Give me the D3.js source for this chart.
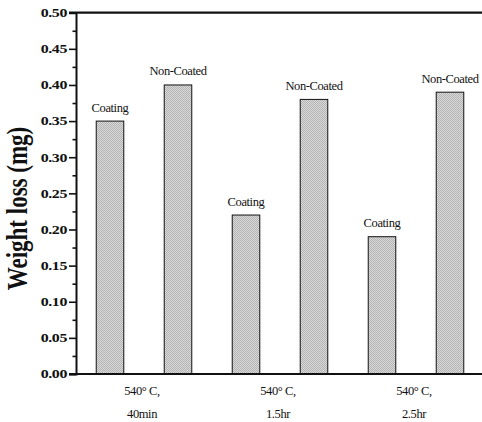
<!DOCTYPE html>
<html><head><meta charset="utf-8">
<script src="https://cdn.jsdelivr.net/npm/d3@7"></script>
<style>body{margin:0;background:#fff}svg{display:block}</style>
</head><body>
<svg id="c" width="482" height="422"></svg>
<script>
const groupLine1 = ["540\u00b0 C,", "540\u00b0 C,", "540\u00b0 C,"];
const groupLine2 = ["40min", "1.5hr", "2.5hr"];
const seriesNames = ["Coating", "Non-Coated"];
const coating = [0.35, 0.22, 0.19];
const nonCoated = [0.40, 0.38, 0.39];
const yTicks = [0.00, 0.05, 0.10, 0.15, 0.20, 0.25, 0.30, 0.35, 0.40, 0.45, 0.50];
const yMinorTicks = [0.025, 0.075, 0.125, 0.175, 0.225, 0.275, 0.325, 0.375, 0.425, 0.475];

const svg = d3.select("#c");
const L = 76, R = 484, T = 12.7, B = 374;
const groups = groupLine2.map((d, i) => i);
const series = [coating, nonCoated];
const serif = "'Liberation Serif', 'Times New Roman', serif";

const defs = svg.append("defs");
const pat = defs.append("pattern").attr("id", "dots").attr("width", 2).attr("height", 2)
  .attr("patternUnits", "userSpaceOnUse");
pat.append("rect").attr("width", 2).attr("height", 2).attr("fill", "#dadada");
pat.append("rect").attr("x", 0).attr("y", 0).attr("width", 1).attr("height", 1).attr("fill", "#b2b2b2");
pat.append("rect").attr("x", 1).attr("y", 1).attr("width", 1).attr("height", 1).attr("fill", "#b2b2b2");

const x0 = d3.scaleBand().domain(groups).range([L, R]).padding(0);
const x1 = d3.scaleBand().domain(seriesNames).range([0, x0.bandwidth()])
  .paddingInner(0.595).paddingOuter(0.2975);
const y = d3.scaleLinear().domain([0, 0.5]).range([B, T]);

// bars
const data = [];
groups.forEach(g => seriesNames.forEach((s, si) => data.push({g, s, v: series[si][g]})));
svg.append("g").selectAll("rect").data(data).join("rect")
  .attr("x", d => x0(d.g) + x1(d.s))
  .attr("y", d => y(d.v))
  .attr("width", x1.bandwidth())
  .attr("height", d => y(0) - y(d.v))
  .attr("fill", "url(#dots)")
  .attr("stroke", "#111").attr("stroke-width", 1);

// bar labels
svg.append("g").selectAll("text").data(data).join("text")
  .attr("x", d => x0(d.g) + x1(d.s) + x1.bandwidth() / 2)
  .attr("y", d => y(d.v) - 9.5)
  .attr("text-anchor", "middle")
  .style("font-family", serif)
  .attr("font-size", 12.5)
  .attr("letter-spacing", -0.4)
  .attr("fill", "#111")
  .text(d => d.s);

// y axis
const yAxis = svg.append("g").attr("transform", `translate(${L},0)`)
  .call(d3.axisLeft(y).tickValues(yTicks).tickFormat(d3.format(".2f")).tickSize(7).tickPadding(2));
yAxis.attr("font-family", null);
yAxis.select(".domain").attr("stroke-width", 2).attr("stroke", "#111");
yAxis.selectAll(".tick line").attr("stroke-width", 1.6).attr("stroke", "#111");
yAxis.selectAll(".tick text")
  .style("font-family", serif)
  .attr("font-weight", "bold").attr("font-size", 12).attr("fill", "#111")
  .attr("letter-spacing", -0.3)
  .attr("x", -9 / 1.33).attr("transform", "scale(1.33,1)");
svg.append("g").attr("transform", `translate(${L},0)`)
  .call(d3.axisLeft(y).tickValues(yMinorTicks).tickSize(3.5).tickFormat(""))
  .call(g => g.select(".domain").remove())
  .selectAll("line").attr("stroke-width", 1.6).attr("stroke", "#111");

// frame top and bottom
svg.append("line").attr("x1", L - 7).attr("x2", R).attr("y1", B).attr("y2", B)
  .attr("stroke", "#111").attr("stroke-width", 2.2);
svg.append("line").attr("x1", L - 7).attr("x2", R).attr("y1", T).attr("y2", T)
  .attr("stroke", "#111").attr("stroke-width", 2.2);

// group labels
const gl = svg.append("g").selectAll("g").data(groups).join("g")
  .attr("transform", d => `translate(${x0(d) + x0.bandwidth() / 2 - 2},0)`)
  .style("font-family", serif)
  .attr("font-size", 12.5).attr("fill", "#111").attr("text-anchor", "middle");
gl.append("text").attr("y", 395).attr("letter-spacing", -0.4).text(d => groupLine1[d]);
gl.append("text").attr("y", 418).attr("letter-spacing", -0.4).text(d => groupLine2[d]);

// y title
svg.append("text")
  .attr("transform", "translate(27,208.5) rotate(-90) scale(1,1.3)")
  .attr("text-anchor", "middle")
  .style("font-family", serif)
  .attr("font-weight", "bold").attr("font-size", 23).attr("fill", "#111")
  .text("Weight loss (mg)");
</script>
</body></html>
